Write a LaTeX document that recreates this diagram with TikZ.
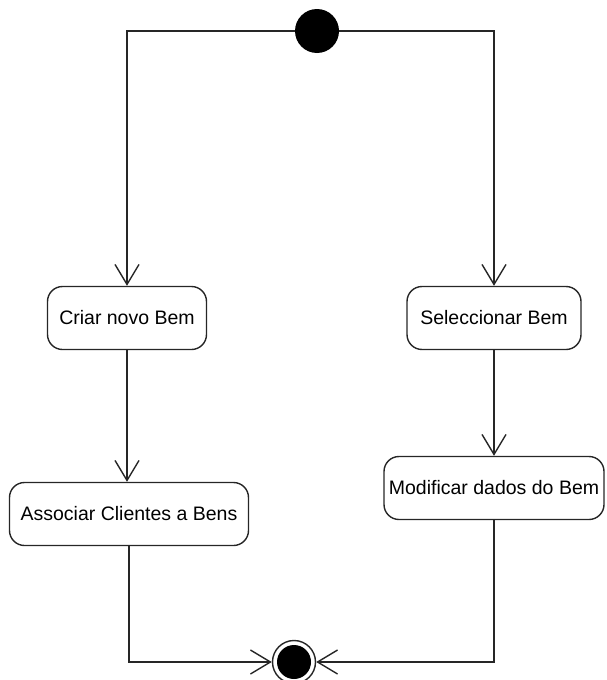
\documentclass[tikz,border=0pt]{standalone}
\usepackage{fontspec}
\setmainfont{Liberation Sans}
\usetikzlibrary{arrows.meta}
\begin{document}
\begin{tikzpicture}[x=1pt,y=-1pt,
  flow/.style={line width=1.4pt, draw=black!85},
  arr/.style={flow, -{Straight Barb[length=20pt,width=24pt,line width=1.4pt]}},
  activity/.style={draw=black!85, line width=1.4pt, rounded corners=15pt,
    minimum height=63pt, inner sep=0pt, font=\fontsize{19.5}{22}\selectfont},
  startnode/.style={circle, fill=black, minimum size=44pt, inner sep=0pt},
  endnode/.style={circle, draw=black!85, line width=1.4pt, minimum size=43pt, inner sep=0pt,
    path picture={\fill[black] (path picture bounding box.center) circle (17pt);}}]
  \useasboundingbox (0,0) rectangle (606,680);

  % initial and final states
  \node[startnode] (start) at (317,31) {};
  \node[endnode] (end) at (294,662) {};

  % activities
  \node[activity, minimum width=159pt] (criar) at (127,318) {Criar novo Bem};
  \node[activity, minimum width=239pt] (associar) at (129,514) {Associar Clientes a Bens};
  \node[activity, minimum width=174pt] (selec) at (494,318) {Seleccionar Bem};
  \node[activity, minimum width=220pt] (modif) at (494,488) {Modificar dados do Bem};

  % transitions
  \draw[arr] (start) -| (criar);
  \draw[arr] (start) -| (selec);
  \draw[arr] (criar) -- (criar |- associar.north);
  \draw[arr] (selec) -- (modif);
  \draw[arr] (associar) |- (end);
  \draw[arr] (modif) |- (end);
\end{tikzpicture}
\end{document}
